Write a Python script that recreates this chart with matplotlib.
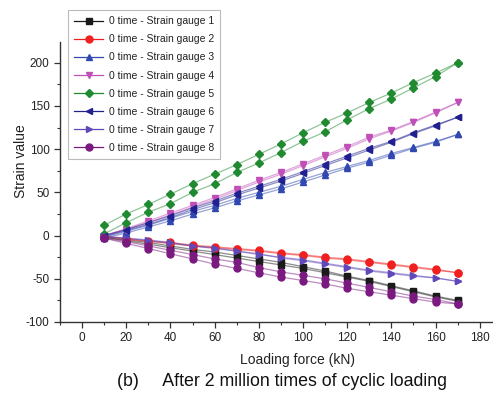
import matplotlib
matplotlib.use("Agg")
import matplotlib.pyplot as plt
import numpy as np

plt.rcParams['font.family'] = ['Liberation Sans', 'DejaVu Sans']
plt.rcParams['axes.unicode_minus'] = False

force = [10, 20, 30, 40, 50, 60, 70, 80, 90, 100, 110, 120, 130, 140, 150, 160, 170]

labels = ["0 time - Strain gauge 1", "0 time - Strain gauge 2", "0 time - Strain gauge 3",
          "0 time - Strain gauge 4", "0 time - Strain gauge 5", "0 time - Strain gauge 6",
          "0 time - Strain gauge 7", "0 time - Strain gauge 8"]

# loading run (a) and unloading run (b) for each gauge
g1_a = [-2, -5, -8, -12, -16, -19, -23, -27, -31, -36, -41, -47, -52, -58, -64, -70, -75]
g1_b = [-2, -6, -10, -14, -18, -22, -26, -30, -34, -38, -43, -48, -53, -59, -65, -71, -76]
g2_a = [-1, -4, -7, -9, -12, -14, -16, -18, -21, -23, -26, -28, -31, -34, -37, -40, -43]
g2_b = [-1, -4, -6, -8, -11, -13, -15, -17, -20, -22, -25, -27, -30, -33, -36, -39, -43]
g3_a = [-2, 5, 12, 20, 28, 35, 43, 50, 57, 65, 73, 80, 87, 95, 102, 109, 117]
g3_b = [-3, 3, 10, 17, 25, 32, 40, 47, 54, 62, 70, 78, 85, 93, 101, 108, 117]
g4_a = [0, 8, 17, 26, 35, 44, 54, 64, 73, 83, 93, 103, 114, 122, 132, 143, 154]
g4_b = [0, 7, 15, 24, 33, 42, 52, 62, 71, 81, 91, 101, 112, 121, 131, 142, 154]
g5_a = [12, 25, 36, 48, 60, 71, 82, 94, 106, 119, 131, 142, 154, 165, 177, 188, 200]
g5_b = [2, 15, 27, 37, 50, 60, 73, 84, 96, 109, 120, 134, 147, 158, 171, 184, 200]
g6_a = [0, 7, 15, 23, 32, 40, 49, 57, 65, 74, 83, 92, 101, 109, 119, 128, 137]
g6_b = [-1, 6, 13, 21, 30, 38, 47, 55, 63, 72, 81, 90, 99, 108, 118, 127, 137]
g7_a = [-1, -3, -5, -8, -12, -14, -18, -21, -26, -29, -33, -37, -41, -44, -47, -49, -53]
g7_b = [-1, -3, -6, -9, -12, -15, -18, -22, -25, -28, -32, -36, -40, -43, -46, -49, -53]
g8_a = [-3, -7, -12, -17, -22, -27, -31, -37, -42, -46, -50, -55, -60, -65, -70, -74, -79]
g8_b = [-3, -9, -15, -21, -27, -33, -38, -43, -48, -52, -56, -61, -65, -69, -73, -77, -79]

runs_a = [g1_a, g2_a, g3_a, g4_a, g5_a, g6_a, g7_a, g8_a]
runs_b = [g1_b, g2_b, g3_b, g4_b, g5_b, g6_b, g7_b, g8_b]
colors = ["#1a1a1a", "#f02020", "#3048b0", "#c050b8", "#208a30", "#202090", "#6048b8", "#7a1a80"]
markers = ["s", "o", "^", "v", "D", "<", ">", "o"]
msizes = [4.5, 5, 5, 5, 4.2, 5, 5, 5]

fig = plt.figure(figsize=(4.93, 3.99), dpi=100)
ax = fig.add_axes([60/493, 1-322/399, 1-60/493, (322-42)/399])

handles = []
for i in range(8):
    for run in (runs_a[i], runs_b[i]):
        ax.plot(force, run, color=colors[i], alpha=0.5, lw=0.9, zorder=2)
        ax.plot(force, run, ls='none', marker=markers[i], color=colors[i],
                ms=msizes[i], mec=colors[i], zorder=3)
    h, = ax.plot([], [], color=colors[i], lw=0.9, marker=markers[i], ms=msizes[i],
                 mec=colors[i], mfc=colors[i])
    handles.append(h)

ax.set_xlim(-10, 186)
ax.set_ylim(-100, 224)
ax.set_xticks([0, 20, 40, 60, 80, 100, 120, 140, 160, 180])
ax.set_xticks(np.arange(-10, 186, 10), minor=True)
ax.set_yticks([-100, -50, 0, 50, 100, 150, 200])
ax.set_yticks(np.arange(-100, 225, 25), minor=True)
for s in ['top', 'right']:
    ax.spines[s].set_visible(False)
for s in ['left', 'bottom']:
    ax.spines[s].set_color('#333333')
    ax.spines[s].set_linewidth(1.0)
ax.tick_params(which='major', direction='out', length=4, width=0.9, colors='#333333',
               labelsize=8.5, labelcolor='#222222')
ax.tick_params(which='minor', direction='out', length=2.5, width=0.8, colors='#333333')

fig.text(298/493, 1-360/399, "Loading force (kN)", ha='center', va='center',
         fontsize=10, color='#222222')
fig.text(21/493, 1-161/399, "Strain value", ha='center', va='center',
         rotation=90, fontsize=10, color='#222222')
fig.text(282/493, 1-382/399, "(b)     After 2 million times of cyclic loading",
         ha='center', va='center', fontsize=12.8, color='#111111')

leg = fig.legend(handles, labels, loc='upper left', bbox_to_anchor=(68/493, 1-10/399),
                 borderaxespad=0, fontsize=7.5,
                 frameon=True, fancybox=False, edgecolor='#aaaaaa',
                 handlelength=2.8, labelspacing=0.78, borderpad=0.6, handletextpad=0.5)
leg.get_frame().set_linewidth(0.8)
for t in leg.get_texts():
    t.set_color('#222222')

fig.savefig("out.png", dpi=100)
